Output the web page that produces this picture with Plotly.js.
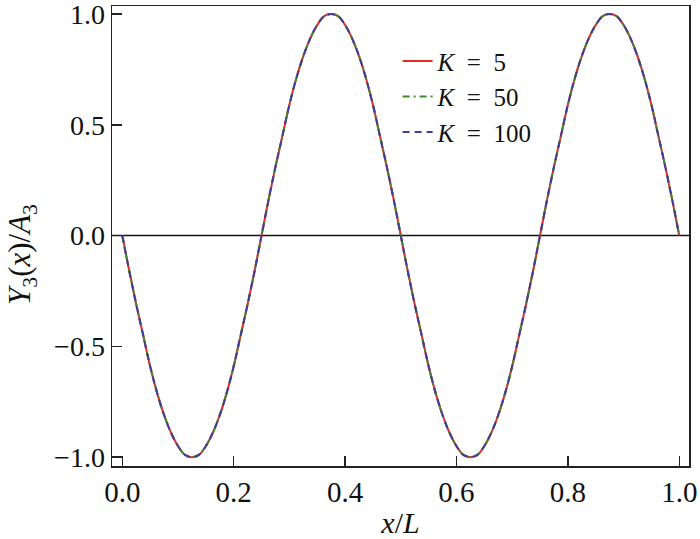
<!DOCTYPE html>
<html>
<head>
<meta charset="utf-8">
<script src="https://cdn.plot.ly/plotly-3.0.1.min.js"></script>
<style>html,body{margin:0;padding:0;background:#fff;}#chart{width:700px;height:539px;}</style>
</head>
<body>
<div id="chart"></div>
<script>
// x/L positions
var xPos = [0, 0.0125, 0.025, 0.0375, 0.05, 0.0625, 0.075, 0.0875, 0.1, 0.1125,
            0.125, 0.1375, 0.15, 0.1625, 0.175, 0.1875, 0.2, 0.2125, 0.225, 0.2375,
            0.25, 0.2625, 0.275, 0.2875, 0.3, 0.3125, 0.325, 0.3375, 0.35, 0.3625,
            0.375, 0.3875, 0.4, 0.4125, 0.425, 0.4375, 0.45, 0.4625, 0.475, 0.4875,
            0.5, 0.5125, 0.525, 0.5375, 0.55, 0.5625, 0.575, 0.5875, 0.6, 0.6125,
            0.625, 0.6375, 0.65, 0.6625, 0.675, 0.6875, 0.7, 0.7125, 0.725, 0.7375,
            0.75, 0.7625, 0.775, 0.7875, 0.8, 0.8125, 0.825, 0.8375, 0.85, 0.8625,
            0.875, 0.8875, 0.9, 0.9125, 0.925, 0.9375, 0.95, 0.9625, 0.975, 0.9875, 1.0];
// Y3(x)/A3 read for each K (the three curves coincide)
var yK5 = [0, -0.16, -0.31, -0.45, -0.59, -0.71, -0.81, -0.89, -0.95, -0.99,
           -1.0, -0.99, -0.95, -0.89, -0.81, -0.71, -0.59, -0.45, -0.31, -0.16,
           0, 0.16, 0.31, 0.45, 0.59, 0.71, 0.81, 0.89, 0.95, 0.99,
           1.0, 0.99, 0.95, 0.89, 0.81, 0.71, 0.59, 0.45, 0.31, 0.16,
           0, -0.16, -0.31, -0.45, -0.59, -0.71, -0.81, -0.89, -0.95, -0.99,
           -1.0, -0.99, -0.95, -0.89, -0.81, -0.71, -0.59, -0.45, -0.31, -0.16,
           0, 0.16, 0.31, 0.45, 0.59, 0.71, 0.81, 0.89, 0.95, 0.99,
           1.0, 0.99, 0.95, 0.89, 0.81, 0.71, 0.59, 0.45, 0.31, 0.16, 0];
var yK50 = [0, -0.16, -0.31, -0.45, -0.59, -0.71, -0.81, -0.89, -0.95, -0.99,
            -1.0, -0.99, -0.95, -0.89, -0.81, -0.71, -0.59, -0.45, -0.31, -0.16,
            0, 0.16, 0.31, 0.45, 0.59, 0.71, 0.81, 0.89, 0.95, 0.99,
            1.0, 0.99, 0.95, 0.89, 0.81, 0.71, 0.59, 0.45, 0.31, 0.16,
            0, -0.16, -0.31, -0.45, -0.59, -0.71, -0.81, -0.89, -0.95, -0.99,
            -1.0, -0.99, -0.95, -0.89, -0.81, -0.71, -0.59, -0.45, -0.31, -0.16,
            0, 0.16, 0.31, 0.45, 0.59, 0.71, 0.81, 0.89, 0.95, 0.99,
            1.0, 0.99, 0.95, 0.89, 0.81, 0.71, 0.59, 0.45, 0.31, 0.16, 0];
var yK100 = [0, -0.16, -0.31, -0.45, -0.59, -0.71, -0.81, -0.89, -0.95, -0.99,
             -1.0, -0.99, -0.95, -0.89, -0.81, -0.71, -0.59, -0.45, -0.31, -0.16,
             0, 0.16, 0.31, 0.45, 0.59, 0.71, 0.81, 0.89, 0.95, 0.99,
             1.0, 0.99, 0.95, 0.89, 0.81, 0.71, 0.59, 0.45, 0.31, 0.16,
             0, -0.16, -0.31, -0.45, -0.59, -0.71, -0.81, -0.89, -0.95, -0.99,
             -1.0, -0.99, -0.95, -0.89, -0.81, -0.71, -0.59, -0.45, -0.31, -0.16,
             0, 0.16, 0.31, 0.45, 0.59, 0.71, 0.81, 0.89, 0.95, 0.99,
             1.0, 0.99, 0.95, 0.89, 0.81, 0.71, 0.59, 0.45, 0.31, 0.16, 0];
var seriesNames = ['<i>K</i>\u2002=\u20025', '<i>K</i>\u2002=\u200250', '<i>K</i>\u2002=\u2002100'];
var xTicks = [0, 0.2, 0.4, 0.6, 0.8, 1.0];
var yTicks = [-1.0, -0.5, 0.0, 0.5, 1.0];

var FONT = 'Liberation Serif, DejaVu Serif, serif';
var traces = [
  {x: xPos, y: yK5, name: seriesNames[0], mode: 'lines',
   line: {color: '#e82a22', width: 2, dash: 'solid', shape: 'spline'}},
  {x: xPos, y: yK50, name: seriesNames[1], mode: 'lines',
   line: {color: '#3f8a22', width: 2, dash: '7px,4px,2px,4px', shape: 'spline'}},
  {x: xPos, y: yK100, name: seriesNames[2], mode: 'lines',
   line: {color: '#3e3e9e', width: 2, dash: '7px,5px', shape: 'spline'}}
];
var layout = {
  width: 700, height: 539,
  margin: {l: 112, r: 11, t: 6, b: 73},
  paper_bgcolor: '#fff', plot_bgcolor: '#fff',
  font: {family: FONT, size: 28, color: '#111'},
  showlegend: true,
  legend: {x: 0.495, y: 0.93, xanchor: 'left', yanchor: 'top',
           bgcolor: 'rgba(0,0,0,0)', font: {family: FONT, size: 25, color: '#111'},
           itemwidth: 30, tracegroupgap: 0},
  xaxis: {range: [-0.0185, 1.0175], tickvals: xTicks, tickformat: '.1f',
          ticks: 'inside', ticklen: 10, tickwidth: 1.5, tickcolor: '#222',
          showline: true, linecolor: '#222', linewidth: 1.5, mirror: true,
          showgrid: false, zeroline: false, ticklabeloverflow: 'allow',
          tickfont: {family: FONT, size: 29, color: '#111'},
          title: {text: '<i>x</i>/<i>L</i>', font: {family: FONT, size: 30, color: '#111'}, standoff: 4}},
  yaxis: {range: [-1.04, 1.036], tickvals: yTicks, tickformat: '.1f',
          ticks: 'inside', ticklen: 10, tickwidth: 1.5, tickcolor: '#222',
          showline: true, linecolor: '#222', linewidth: 1.5, mirror: true,
          showgrid: false, zeroline: false, ticklabeloverflow: 'allow',
          tickfont: {family: FONT, size: 28, color: '#111'}},
  annotations: [{xref: 'paper', yref: 'paper', x: -0.155, y: 0.46, xanchor: 'center', yanchor: 'middle',
                 textangle: -90, showarrow: false,
                 text: '<i>Y</i><sub>3</sub>(<i>x</i>)/<i>A</i><sub>3</sub>',
                 font: {family: FONT, size: 31, color: '#111'}}],
  shapes: [{type: 'line', xref: 'paper', yref: 'y', x0: 0, x1: 1, y0: 0, y1: 0,
            line: {color: '#111', width: 1.5}, layer: 'below'}]
};
Plotly.newPlot('chart', traces, layout, {displayModeBar: false, staticPlot: true});
</script>
</body>
</html>
